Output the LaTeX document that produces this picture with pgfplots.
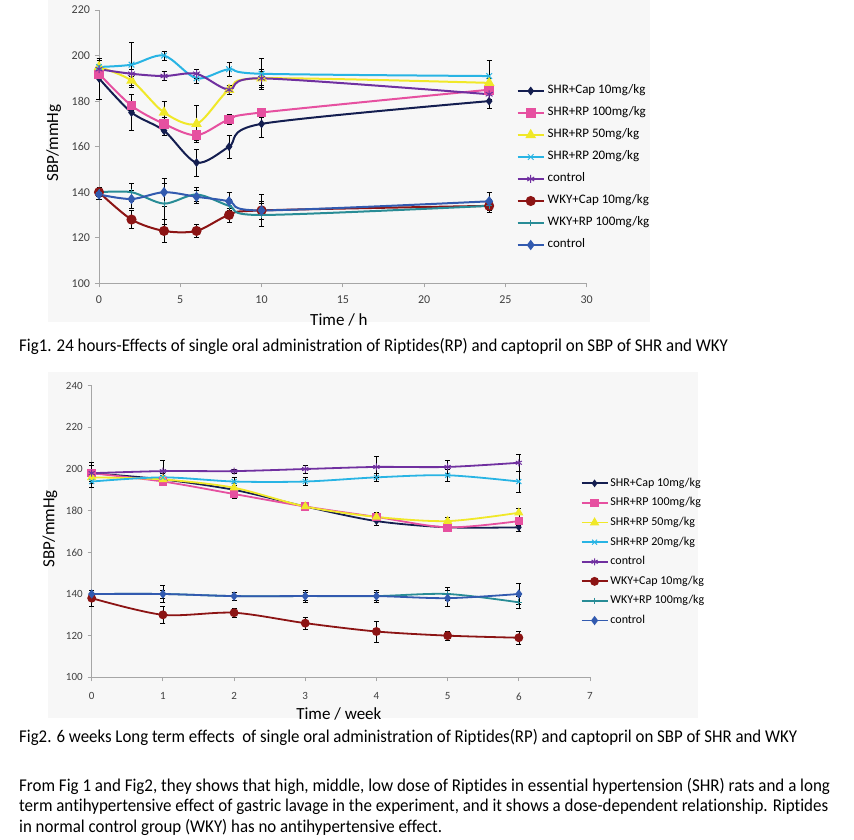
\documentclass[border=0pt]{standalone}
\usepackage{fontspec}
\setmainfont{Carlito}[Ligatures=NoCommon]
\usepackage{graphicx}
\usepackage{pgfplots}
\pgfplotsset{compat=1.18}
\usepackage{pgfplotstable}

\definecolor{cnavy}{RGB}{20,30,80}
\definecolor{cpink}{RGB}{230,80,160}
\definecolor{cyellow}{RGB}{240,232,40}
\definecolor{ccyan}{RGB}{40,180,228}
\definecolor{cpurple}{RGB}{112,48,160}
\definecolor{cdred}{RGB}{140,20,20}
\definecolor{cteal}{RGB}{40,140,150}
\definecolor{cblue}{RGB}{50,90,175}

% ---------- Fig 1 data (time in h, SBP, error) ----------
\pgfplotstableread{
x y e
0 190 9
2 175 8
4 167 2
6 153 6
8 160 5
10 170 6
24 180 3
}\aA
\pgfplotstableread{
x y e
0 192 2
2 178 2
4 170 3
6 165 2
8 172 2
10 175 2
24 185 2
}\aB
\pgfplotstableread{
x y e
0 195 3
2 189 2
4 175 5
6 170 8
8 185 2
10 190 3
24 188 2
}\aC
\pgfplotstableread{
x y e
0 195 4
2 196 10
4 200 2
6 190 2
8 194 3
10 192 7
24 191 7
}\aD
\pgfplotstableread{
x y e
0 194 2
2 192 2
4 191 2
6 192 2
8 185 2
10 190 4
24 183 2
}\aE
\pgfplotstableread{
x y e
0 140 2
2 128 4
4 123 5
6 123 3
8 130 3
10 132 4
24 134 3
}\aF
\pgfplotstableread{
x y e
0 140 2
2 140 4
4 135 9
6 139 3
8 134 3
10 130 5
24 134 3
}\aG
\pgfplotstableread{
x y e
0 139 2
2 137 4
4 140 6
6 138 3
8 136 4
10 132 7
24 136 4
}\aH

% ---------- Fig 2 data (time in weeks, SBP, error) ----------
\pgfplotstableread{
x y e
0 198 4
1 195 3
2 190 2
3 182 1
4 175 2
5 172 2
6 172 2
}\bA
\pgfplotstableread{
x y e
0 198 2
1 194 2
2 188 2
3 182 2
4 177 2
5 172 2
6 175 2
}\bB
\pgfplotstableread{
x y e
0 196 2
1 195 2
2 191 2
3 182 2
4 177 2
5 175 2
6 179 2
}\bC
\pgfplotstableread{
x y e
0 194 3
1 196 3
2 194 2
3 194 2
4 196 2
5 197 3
6 194 5
}\bD
\pgfplotstableread{
x y e
0 198 5
1 199 5
2 199 1
3 200 2
4 201 5
5 201 3
6 203 4
}\bE
\pgfplotstableread{
x y e
0 138 4
1 130 4
2 131 2
3 126 3
4 122 5
5 120 2
6 119 3
}\bF
\pgfplotstableread{
x y e
0 140 2
1 140 2
2 139 2
3 139 2
4 139 2
5 140 3
6 136 3
}\bG
\pgfplotstableread{
x y e
0 140 2
1 140 4
2 139 2
3 139 3
4 139 3
5 138 4
6 140 5
}\bH

\pgfplotsset{
  excel/.style={
    scale only axis,
    axis x line*=bottom, axis y line*=left,
    axis line style={draw=gray!70, line width=0.8bp, -},
    tick align=outside, major tick length=4bp,
    tick style={draw=gray!70, line width=0.8bp},
    ticklabel style={font=\fontsize{12bp}{12bp}\selectfont, text=black!75},
    xticklabel style={yshift=-5bp},
    yticklabel style={xshift=-1.5bp},
    /pgf/number format/assume math mode=true,
    clip=false,
    legend cell align=left,
    legend image code/.code={\draw[mark repeat=2,mark phase=2,##1] plot coordinates {(0bp,0bp) (13bp,0bp) (26bp,0bp)};},
  },
  eb/.style={
    /pgfplots/error bars/y dir=both,
    /pgfplots/error bars/y explicit,
    /pgfplots/error bars/error bar style={black, line width=0.6bp, solid, sharp plot},
    /pgfplots/error bars/error mark options={black, rotate=90, mark size=2.5bp, line width=0.6bp, solid}},
  sA/.style={eb, color=cnavy, line width=2bp, smooth, mark=diamond*, mark size=2.8bp, mark options={solid}},
  sB/.style={eb, color=cpink, line width=2bp, smooth, mark=square*, mark size=3.8bp, mark options={solid}},
  sC/.style={eb, color=cyellow, line width=2bp, smooth, mark=triangle*, mark size=4.2bp, mark options={solid}},
  sD/.style={eb, color=ccyan, line width=2bp, smooth, mark=x, mark size=4bp, mark options={solid, line width=1bp}},
  sE/.style={eb, color=cpurple, line width=2bp, smooth, mark=asterisk, mark size=4bp, mark options={solid, line width=1bp}},
  sF/.style={eb, color=cdred, line width=2bp, smooth, mark=*, mark size=4bp, mark options={solid}},
  sG/.style={eb, color=cteal, line width=2bp, smooth, mark=+, mark size=3bp, mark options={solid, line width=1bp}},
  sH/.style={eb, color=cblue, line width=2bp, smooth, mark=diamond*, mark size=3.6bp, mark options={solid}},
}

\newcommand{\txt}[1]{\fontsize{18bp}{18bp}\selectfont #1}

\begin{document}
\begin{tikzpicture}
\path[use as bounding box] (0,0) rectangle (854bp,-840bp);
\fill[white] (0,0) rectangle (854bp,-840bp);
\fill[black!3] (48bp,0bp) rectangle (650bp,-322bp);
\fill[black!3] (48bp,-372bp) rectangle (698bp,-718bp);

% ================= Fig 1 =================
\begin{axis}[excel,
  at={(99bp,-283.3bp)}, anchor=south west,
  width=487.7bp, height=273.3bp,
  xmin=0, xmax=30, ymin=100, ymax=220,
  xtick={0,5,...,30}, ytick={100,120,...,220},
  xlabel={Time / h}, ylabel={SBP/mmHg},
  every axis x label/.style={at={(axis description cs:0.492,-0.134)}, anchor=center, font=\fontsize{17bp}{17bp}\selectfont},
  every axis y label/.style={at={(axis description cs:-0.093,0.513)}, anchor=center, rotate=90, font=\fontsize{17bp}{17bp}\selectfont},
  legend style={draw=none, fill=none, at={(axis description cs:0.8565,0.7256)}, anchor=north west,
    inner sep=0pt, outer sep=0pt, row sep=10bp,
    font=\fontsize{13bp}{13bp}\selectfont,
    nodes={inner sep=0pt, text height=9bp, text depth=3bp},
    /tikz/every odd column/.style={column sep=3bp}},
]
\addplot[sA] table[x=x,y=y,y error=e]{\aA}; \addlegendentry{SHR+Cap 10mg/kg}
\addplot[sB] table[x=x,y=y,y error=e]{\aB}; \addlegendentry{SHR+RP 100mg/kg}
\addplot[sC] table[x=x,y=y,y error=e]{\aC}; \addlegendentry{SHR+RP 50mg/kg}
\addplot[sD] table[x=x,y=y,y error=e]{\aD}; \addlegendentry{SHR+RP 20mg/kg}
\addplot[sE] table[x=x,y=y,y error=e]{\aE}; \addlegendentry{control}
\addplot[sF] table[x=x,y=y,y error=e]{\aF}; \addlegendentry{WKY+Cap 10mg/kg}
\addplot[sG] table[x=x,y=y,y error=e]{\aG}; \addlegendentry{WKY+RP 100mg/kg}
\addplot[sH] table[x=x,y=y,y error=e]{\aH}; \addlegendentry{control}
\end{axis}

% ================= Fig 2 =================
\begin{axis}[excel,
  at={(91.7bp,-677.3bp)}, anchor=south west,
  width=498.3bp, height=291.6bp,
  xmin=0, xmax=7, ymin=100, ymax=240,
  xtick={0,1,...,7}, ytick={100,120,...,240},
  ticklabel style={font=\fontsize{11bp}{11bp}\selectfont},
  xticklabel style={yshift=-3bp},
  xlabel={Time / week}, ylabel={SBP/mmHg},
  every axis x label/.style={at={(axis description cs:0.496,-0.126)}, anchor=center, font=\fontsize{17bp}{17bp}\selectfont},
  every axis y label/.style={at={(axis description cs:-0.0837,0.509)}, anchor=center, rotate=90, font=\fontsize{17bp}{17bp}\selectfont},
  legend style={draw=none, fill=none, at={(axis description cs:0.9813,0.684)}, anchor=north west,
    inner sep=0pt, outer sep=0pt, row sep=8.6bp,
    font=\fontsize{12bp}{12bp}\selectfont,
    nodes={inner sep=0pt, text height=8.5bp, text depth=2.5bp},
    /tikz/every odd column/.style={column sep=2bp}},
]
\addplot[sA, line width=1.8bp, mark size=2.4bp] table[x=x,y=y,y error=e]{\bA}; \addlegendentry{SHR+Cap 10mg/kg}
\addplot[sB, line width=1.8bp, mark size=3.3bp] table[x=x,y=y,y error=e]{\bB}; \addlegendentry{SHR+RP 100mg/kg}
\addplot[sC, line width=1.8bp, mark size=3.6bp] table[x=x,y=y,y error=e]{\bC}; \addlegendentry{SHR+RP 50mg/kg}
\addplot[sD, line width=1.8bp, mark size=3.5bp] table[x=x,y=y,y error=e]{\bD}; \addlegendentry{SHR+RP 20mg/kg}
\addplot[sE, line width=1.8bp, mark size=3.5bp] table[x=x,y=y,y error=e]{\bE}; \addlegendentry{control}
\addplot[sF, line width=1.8bp, mark size=3.5bp] table[x=x,y=y,y error=e]{\bF}; \addlegendentry{WKY+Cap 10mg/kg}
\addplot[sG, line width=1.8bp] table[x=x,y=y,y error=e]{\bG}; \addlegendentry{WKY+RP 100mg/kg}
\addplot[sH, line width=1.8bp, mark size=3.2bp] table[x=x,y=y,y error=e]{\bH}; \addlegendentry{control}
\end{axis}

% ================= Captions and text =================
\node[anchor=base west, inner sep=0pt] at (19bp,-351.5bp) {\resizebox{709bp}{\height}{\txt{Fig1. 24 hours-Effects of single oral administration of Riptides(RP) and captopril on SBP of SHR and WKY}}};
\node[anchor=base west, inner sep=0pt] at (19bp,-742.5bp) {\resizebox{778bp}{\height}{\txt{Fig2. 6 weeks Long term effects\ \ of single oral administration of Riptides(RP) and captopril on SBP of SHR and WKY}}};
\node[anchor=base west, inner sep=0pt] at (19bp,-791bp) {\resizebox{811bp}{\height}{\txt{From Fig 1 and Fig2, they shows that high, middle, low dose of Riptides in essential hypertension (SHR) rats and a long}}};
\node[anchor=base west, inner sep=0pt] at (19bp,-811.5bp) {\resizebox{809bp}{\height}{\txt{term antihypertensive effect of gastric lavage in the experiment,\ and it shows a dose-dependent relationship. Riptides}}};
\node[anchor=base west, inner sep=0pt] at (19bp,-832bp) {\resizebox{423bp}{\height}{\txt{in normal control group (WKY) has no antihypertensive effect.}}};
\end{tikzpicture}
\end{document}
